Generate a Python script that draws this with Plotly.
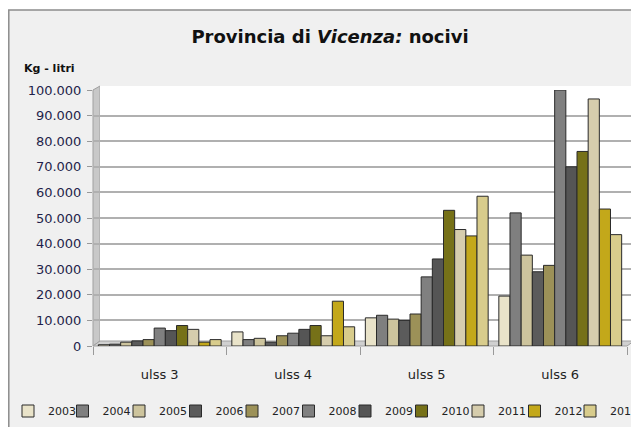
import plotly.graph_objects as go

categories = ["ulss 3", "ulss 4", "ulss 5", "ulss 6"]
years = ["2003", "2004", "2005", "2006", "2007", "2008", "2009", "2010", "2011", "2012", "2013"]

v2003 = [500, 5500, 11000, 19500]
v2004 = [700, 2500, 12000, 52000]
v2005 = [1500, 3000, 10500, 35500]
v2006 = [2000, 1500, 10000, 29000]
v2007 = [2500, 4000, 12500, 31500]
v2008 = [7000, 5000, 27000, 100000]
v2009 = [6000, 6500, 34000, 70000]
v2010 = [8000, 8000, 53000, 76000]
v2011 = [6500, 4000, 45500, 96500]
v2012 = [1500, 17500, 43000, 53500]
v2013 = [2500, 7500, 58500, 43500]

series = [v2003, v2004, v2005, v2006, v2007, v2008, v2009, v2010, v2011, v2012, v2013]
colors = ["#e9e3c9", "#7f7f7f", "#cdc49d", "#5b5b5b", "#9c9158",
          "#808080", "#555555", "#767118", "#d6cdad", "#c3a81a", "#d8cc8c"]

yticks = [0, 10000, 20000, 30000, 40000, 50000, 60000, 70000, 80000, 90000, 100000]

def legend_id(i):
    return "legend" if i == 0 else f"legend{i + 1}"

fig = go.Figure()
for i, (name, vals, col) in enumerate(zip(years, series, colors)):
    fig.add_trace(go.Bar(
        name=name, x=categories, y=vals,
        marker=dict(color=col, line=dict(color="#2a2a2a", width=1)),
        legend=legend_id(i),
    ))

# the page body adds an 8px offset; positions below are given in screen pixels
OFF = 8
W, H = 639, 427
S_L, S_T, S_B = 93, 90, 346          # plot area on screen
CAT_W = 133.5                        # width of one category on screen
L = S_L - OFF
T = S_T - OFF
R = 0
B = H - (S_B - OFF)
pw, ph = W - L - R, H - T - B
x_hi = -0.5 + pw / CAT_W

def px(x):
    return (x - S_L) / pw

def py(y):
    return (S_B - y) / ph

shapes = [
    # outer chart frame
    dict(type="rect", xref="paper", yref="paper", layer="below",
         x0=px(OFF + 0.8), x1=px(700), y0=py(480), y1=py(10),
         fillcolor="#f0f0f0", line=dict(color="#8c8c8c", width=1.5)),
    # left wall
    dict(type="path", xref="paper", yref="paper", layer="below",
         path=f"M {px(93)},{py(346)} L {px(100)},{py(341)} L {px(100)},{py(86)} L {px(93)},{py(90)} Z",
         fillcolor="#c8c8c8", line=dict(color="#a0a0a0", width=1)),
    # back wall
    dict(type="rect", xref="paper", yref="paper", layer="below",
         x0=px(100), x1=px(634), y0=py(341), y1=py(86),
         fillcolor="#ffffff", line=dict(width=0)),
    # floor
    dict(type="path", xref="paper", yref="paper", layer="below",
         path=f"M {px(93)},{py(346)} L {px(627)},{py(346)} L {px(634)},{py(341)} L {px(100)},{py(341)} Z",
         fillcolor="#d0d0d0", line=dict(color="#a0a0a0", width=1)),
    # cover grid beyond the back wall
    dict(type="rect", xref="paper", yref="paper", layer="above",
         x0=px(634.5), x1=px(700), y0=py(341), y1=py(84),
         fillcolor="#f0f0f0", line=dict(width=0)),
]

legend_font = dict(size=11, family="DejaVu Sans", color="#222222")

legends = {}
n = len(years)
for i in range(n):
    text_x = 46 + i * 56.5                 # screen x where the entry text starts
    if i == n - 1:
        lx, anchor = 1 - 4 / pw, "right"
    else:
        left = max(OFF, text_x - 40)
        lx, anchor = px(left), "left"
    legends[legend_id(i)] = dict(
        orientation="h",
        x=lx, xanchor=anchor,
        y=py(411), yanchor="middle",
        font=legend_font,
        bgcolor="rgba(0,0,0,0)",
        itemwidth=30,
    )

fig.update_layout(
    width=W, height=H,
    margin=dict(l=L, r=R, t=T, b=B),
    paper_bgcolor="#ffffff",
    plot_bgcolor="rgba(0,0,0,0)",
    separators=",.",
    barmode="group",
    bargap=0.08,
    bargroupgap=0.0,
    font=dict(family="DejaVu Sans", color="#222222"),
    title=dict(
        text="Provincia di <i>Vicenza:</i> nocivi",
        x=(330 - OFF) / W, xref="container", xanchor="center",
        y=1 - (37 - OFF) / H, yref="container", yanchor="middle",
        font=dict(family="DejaVu Sans", size=18, color="#111111", weight="bold"),
    ),
    xaxis=dict(
        type="category",
        tickson="boundaries",
        ticks="outside", ticklen=8, tickcolor="#999999",
        ticklabelstandoff=19,
        showline=False, showgrid=False,
        tickfont=dict(size=13, family="DejaVu Sans", color="#222222"),
        range=[-0.5, x_hi],
    ),
    yaxis=dict(
        range=[0, 100000],
        tickvals=yticks,
        tickformat=",d",
        ticks="outside", ticklen=5, tickcolor="#999999",
        ticklabelstandoff=3,
        showgrid=True, gridcolor="#b0b0b0", gridwidth=2,
        zeroline=False, showline=False,
        tickfont=dict(size=13, family="DejaVu Sans", color="#1f1f4a"),
    ),
    showlegend=True,
    shapes=shapes,
    annotations=[
        dict(text="<b>Kg - litri</b>", xref="paper", yref="paper",
             x=px(50), y=py(68), xanchor="center", yanchor="middle",
             showarrow=False, font=dict(size=11, family="DejaVu Sans", color="#111111")),
    ],
    **legends,
)

fig.write_html("out.html")
